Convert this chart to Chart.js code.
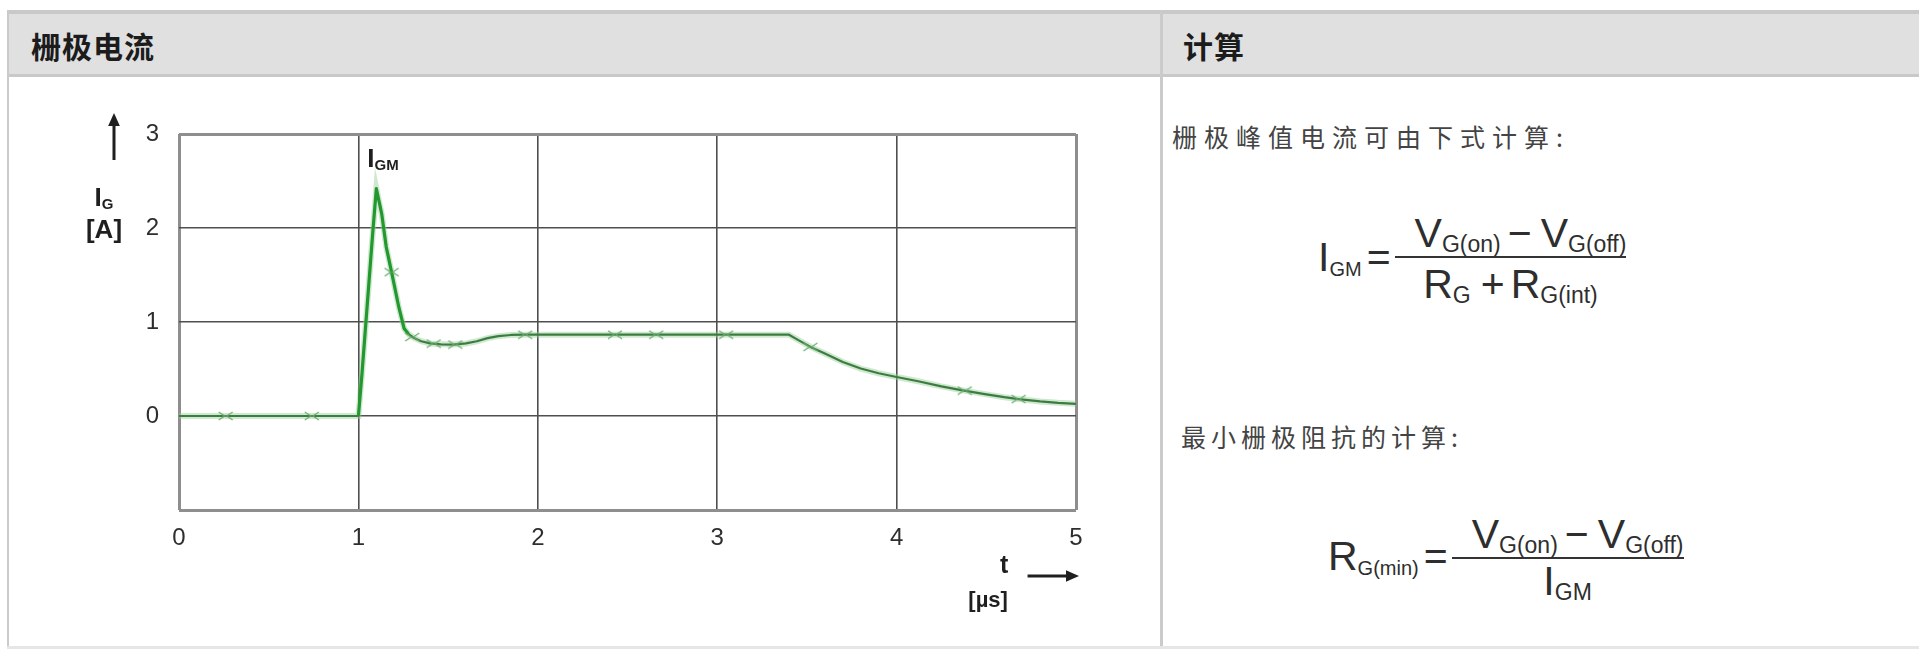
<!DOCTYPE html>
<html lang="zh">
<head>
<meta charset="utf-8">
<title>栅极电流</title>
<script src="https://cdn.jsdelivr.net/npm/chart.js@4.4.1/dist/chart.umd.min.js"></script>
<style>
  html, body { margin: 0; padding: 0; background: #fff; }
  body { width: 1919px; height: 649px; position: relative; overflow: hidden;
         font-family: "Liberation Sans", Arial, sans-serif; }
  .hdr { position: absolute; left: 7px; top: 10px; right: 0; height: 60px;
         background: #e0e0e0; border-top: 4px solid #c9c9c9; border-bottom: 3px solid #c9c9c9; }
  .vl { position: absolute; top: 10px; bottom: 0; background: #cbcbcb; }
  .bl { position: absolute; left: 7px; right: 0; bottom: 0; height: 3px; background: #e6e6e6; }
  .ht { position: absolute; top: 29px; font: bold 30px "Noto Sans CJK SC", sans-serif;
        line-height: 32px; color: #1c1c1c; letter-spacing: 1px; }
  .tx { position: absolute; font: 25px "Noto Sans CJK SC", sans-serif; line-height: 26px;
        color: #444; letter-spacing: 7px; }
  #wrap { position: absolute; left: 8px; top: 78px; width: 1152px; height: 568px; }
  .eq { position: absolute; display: flex; align-items: center; color: #2e2e2e;
        font: 41px "Liberation Sans", Arial, sans-serif; line-height: 40px; white-space: nowrap; }
  .eq sub { font-size: 23px; vertical-align: -5px; line-height: 0; }
  .eq .lhs sub { font-size: 20px; }
  .eq .op { margin: 0 4px 0 5px; }
  .eq .sp { margin: 0 9px 0 7px; }
  .eq .pl { margin: 0 6px 0 10px; }
  .frac { display: inline-flex; flex-direction: column; }
  .num { display: block; text-align: right; padding: 3px 0 3px 20px; line-height: 40px;
         border-bottom: 2px solid #333; }
  .den { display: block; text-align: center; padding: 6px 0 0 0; line-height: 40px; }
  .den.short { padding-top: 2px; }
</style>
</head>
<body>
<div class="hdr"></div>
<div class="vl" style="left:7px;width:2px;"></div>
<div class="vl" style="left:1160px;width:3px;"></div>
<div class="bl"></div>
<div class="ht" style="left:31px;">栅极电流</div>
<div class="ht" style="left:1183px;">计算</div>

<div id="wrap"><canvas id="c"></canvas></div>

<div class="tx" style="left:1172px;top:123px;">栅极峰值电流可由下式计算:</div>
<div class="eq" style="left:1318px;top:210px;">
  <span class="lhs">I<sub>GM</sub></span><span class="op">=</span>
  <span class="frac">
    <span class="num">V<sub>G(on)</sub><span class="sp">−</span>V<sub>G(off)</sub></span>
    <span class="den">R<sub>G</sub><span class="pl">+</span>R<sub>G(int)</sub></span>
  </span>
</div>

<div class="tx" style="left:1181px;top:423px;letter-spacing:5px;">最小栅极阻抗的计算:</div>
<div class="eq" style="left:1328px;top:511px;">
  <span class="lhs">R<sub>G(min)</sub></span><span class="op">=</span>
  <span class="frac">
    <span class="num">V<sub>G(on)</sub><span class="sp">−</span>V<sub>G(off)</sub></span>
    <span class="den short">I<sub>GM</sub></span>
  </span>
</div>

<script>
// Gate current waveform I_G(t): time in µs, current in A
const timeUs = [
  0, 0.26, 0.74, 1.0, 1.02, 1.05, 1.08, 1.10, 1.13, 1.155, 1.185, 1.225, 1.255,
  1.28, 1.31, 1.35, 1.40, 1.46, 1.53, 1.60, 1.66, 1.72, 1.78, 1.85, 1.93,
  2.43, 3.05, 3.40, 3.45, 3.52, 3.60, 3.70, 3.80, 3.90, 4.00, 4.12, 4.25,
  4.36, 4.50, 4.60, 4.68, 4.80, 4.90, 5.00
];
const gateCurrentA = [
  0, 0, 0, 0, 0.45, 1.20, 1.95, 2.42, 2.15, 1.80, 1.53, 1.16, 0.93,
  0.87, 0.83, 0.795, 0.772, 0.762, 0.76, 0.772, 0.795, 0.828, 0.85, 0.862, 0.865,
  0.865, 0.865, 0.865, 0.81, 0.735, 0.665, 0.575, 0.505, 0.455, 0.415, 0.37, 0.315,
  0.275, 0.23, 0.20, 0.18, 0.155, 0.14, 0.13
];
// Sample markers sitting on the waveform
const markTimeUs = [0.26, 0.74, 1.185, 1.30, 1.42, 1.54, 1.93, 2.43, 2.66, 3.05, 3.52, 4.38, 4.68];
const markCurrentA = [0, 0, 1.53, 0.84, 0.77, 0.76, 0.865, 0.865, 0.865, 0.865, 0.735, 0.27, 0.18];

// Axis ticks and labels
const xTickValues = [0, 1, 2, 3, 4, 5];
const xTickLabels = ['0', '1', '2', '3', '4', '5'];
const yTickValues = [-1, 0, 1, 2, 3];
const yTickLabels = ['', '0', '1', '2', '3'];

// Peak used for the I_GM annotation
const peakIndex = gateCurrentA.indexOf(Math.max(...gateCurrentA));

const curve = timeUs.map((t, i) => ({ x: t, y: gateCurrentA[i] }));
const marks = markTimeUs.map((t, i) => ({ x: t, y: markCurrentA[i] }));

function markerGlyph() {
  const c = document.createElement('canvas');
  c.width = 16; c.height = 10;
  const g = c.getContext('2d');
  g.strokeStyle = '#6aac6e';
  g.lineWidth = 1.2;
  g.beginPath();
  g.moveTo(1, 1); g.lineTo(7, 5); g.lineTo(1, 9);
  g.moveTo(15, 1); g.lineTo(9, 5); g.lineTo(15, 9);
  g.stroke();
  return c;
}

const EDGE = '#8e8e8e', INNER = '#4f4f4f';
function gridColor(ctx, lo, hi) {
  const v = ctx.tick ? ctx.tick.value : null;
  return (v === lo || v === hi) ? EDGE : INNER;
}
function gridWidth(ctx, lo, hi) {
  const v = ctx.tick ? ctx.tick.value : null;
  return (v === lo || v === hi) ? 3 : 1.6;
}

function arrow(g, x1, y1, x2, y2, head) {
  const a = Math.atan2(y2 - y1, x2 - x1);
  g.beginPath();
  g.moveTo(x1, y1);
  g.lineTo(x2 - head * 0.8 * Math.cos(a), y2 - head * 0.8 * Math.sin(a));
  g.stroke();
  g.beginPath();
  g.moveTo(x2, y2);
  g.lineTo(x2 - head * Math.cos(a) + head * 0.45 * Math.sin(a), y2 - head * Math.sin(a) - head * 0.45 * Math.cos(a));
  g.lineTo(x2 - head * Math.cos(a) - head * 0.45 * Math.sin(a), y2 - head * Math.sin(a) + head * 0.45 * Math.cos(a));
  g.closePath();
  g.fill();
}

function subText(g, main, sub, x, y, size, subSize, align) {
  g.font = 'bold ' + size + 'px "Liberation Sans", Arial, sans-serif';
  const w1 = g.measureText(main).width;
  g.font = 'bold ' + subSize + 'px "Liberation Sans", Arial, sans-serif';
  const w2 = g.measureText(sub).width;
  const x0 = align === 'center' ? x - (w1 + w2) / 2 : x;
  g.textAlign = 'left';
  g.textBaseline = 'alphabetic';
  g.font = 'bold ' + size + 'px "Liberation Sans", Arial, sans-serif';
  g.fillText(main, x0, y);
  g.font = 'bold ' + subSize + 'px "Liberation Sans", Arial, sans-serif';
  g.fillText(sub, x0 + w1, y + 3);
}

const axisTitles = {
  id: 'axisTitles',
  afterDraw(chart) {
    const g = chart.ctx;
    const ca = chart.chartArea;
    const xs = chart.scales.x, ys = chart.scales.y;
    g.save();
    g.fillStyle = '#1f1f1f';
    g.strokeStyle = '#1f1f1f';
    g.lineWidth = 3;
    // vertical axis: arrow, I_G, [A]
    arrow(g, 106, ca.top + 26, 106, ca.top - 21, 13);
    subText(g, 'I', 'G', 96, ca.top + 72, 26, 15, 'center');
    g.font = 'bold 26px "Liberation Sans", Arial, sans-serif';
    g.textAlign = 'center';
    g.textBaseline = 'middle';
    g.fillText('[A]', 96, ca.top + 97);
    // horizontal axis: t, [µs], arrow
    g.font = 'bold 25px "Liberation Sans", Arial, sans-serif';
    g.fillText('t', xs.getPixelForValue(4.6), ca.bottom + 56);
    g.font = 'bold 22px "Liberation Sans", Arial, sans-serif';
    g.fillText('[µs]', xs.getPixelForValue(4.51), ca.bottom + 91);
    arrow(g, xs.getPixelForValue(4.73), ca.bottom + 66, ca.right + 3, ca.bottom + 66, 13);
    // peak annotation
    const px = xs.getPixelForValue(timeUs[peakIndex]);
    const py = ys.getPixelForValue(gateCurrentA[peakIndex]);
    subText(g, 'I', 'GM', px - 9, py - 22, 26, 15, 'left');
    g.restore();
  }
};

new Chart(document.getElementById('c'), {
  type: 'scatter',
  data: {
    datasets: [
      {
        data: curve, showLine: true, order: 3, pointRadius: 0,
        borderColor: 'rgba(150,205,150,0.45)', borderWidth: 6, tension: 0
      },
      {
        data: curve, showLine: true, order: 2, pointRadius: 0, tension: 0,
        borderColor: '#3b7d40', borderWidth: 2.2, borderJoinStyle: 'round',
        segment: {
          borderColor: c => (c.p0.parsed.x >= 0.99 && c.p0.parsed.x < 1.27) ? '#22992e' : '#3b7d40',
          borderWidth: c => (c.p0.parsed.x >= 0.99 && c.p0.parsed.x < 1.27) ? 3.2 : 2.2
        }
      },
      {
        data: marks, showLine: false, order: 1,
        pointStyle: markerGlyph(), pointRadius: 6
      }
    ]
  },
  plugins: [axisTitles],
  options: {
    responsive: true,
    maintainAspectRatio: false,
    animation: false,
    events: [],
    layout: { padding: { left: 0, top: 56, right: 84, bottom: 0 } },
    plugins: { legend: { display: false }, tooltip: { enabled: false } },
    scales: {
      x: {
        type: 'linear', min: 0, max: 5,
        afterBuildTicks: s => { s.ticks = xTickValues.map(v => ({ value: v })); },
        afterFit: s => { s.height = 136; },
        ticks: {
          padding: 14, color: '#2e2e2e',
          font: { family: '"Liberation Sans", Arial, sans-serif', size: 24 },
          callback: v => xTickLabels[xTickValues.indexOf(v)]
        },
        grid: {
          drawTicks: false,
          color: c => gridColor(c, 0, 5),
          lineWidth: c => gridWidth(c, 0, 5)
        },
        border: { display: false }
      },
      y: {
        type: 'linear', min: -1, max: 3,
        afterBuildTicks: s => { s.ticks = yTickValues.map(v => ({ value: v })); },
        afterFit: s => { s.width = 171; },
        ticks: {
          padding: 20, color: '#2e2e2e',
          font: { family: '"Liberation Sans", Arial, sans-serif', size: 24 },
          callback: v => yTickLabels[yTickValues.indexOf(v)]
        },
        grid: {
          drawTicks: false,
          color: c => gridColor(c, -1, 3),
          lineWidth: c => gridWidth(c, -1, 3)
        },
        border: { display: false }
      }
    }
  }
});
</script>
</body>
</html>
